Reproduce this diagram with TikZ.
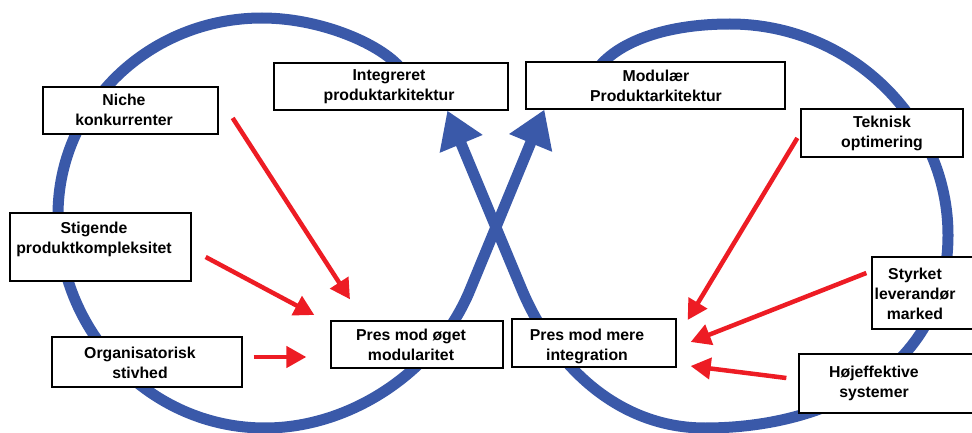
\documentclass[tikz,border=0pt]{standalone}
\usepackage{fontspec}
\setmainfont{Liberation Sans}
\usetikzlibrary{arrows.meta,calc,fit,backgrounds}
\definecolor{loopblue}{RGB}{58,89,169}
\definecolor{pushred}{RGB}{237,28,36}
\begin{document}
\begin{tikzpicture}[x=1pt,y=-1pt,
  frame/.style={draw=black, line width=1.3pt, fill=white, inner sep=0pt},
  boxtext/.style={align=center, inner sep=0pt,
    font=\bfseries\fontsize{15.8}{20}\selectfont},
  loopline/.style={draw=loopblue, line width=11pt,
    -{Triangle[length=36pt,width=44pt]}},
  push/.style={draw=pushred, line width=4.5pt,
    -{Triangle[length=20pt,width=21pt]}}]
\useasboundingbox (0,0) rectangle (972,433);

% boxes
\node[frame, fit={(274,63) (508,110)}] (integ) {};
\node[boxtext] at (389,87) {Integreret\\produktarkitektur};
\node[frame, fit={(526,62) (785,109)}] (modular) {};
\node[boxtext] at (656,86) {Modulær\\Produktarkitektur};

\node[frame, fit={(43,87) (218,134)}] (niche) {};
\node[boxtext] at (124,110) {Niche\\konkurrenter};
\node[frame, fit={(10,213) (191,281)}] (stigende) {};
\node[boxtext] at (94,239) {Stigende\\produktkompleksitet};
\node[frame, fit={(52,337) (242,387)}] (organ) {};
\node[boxtext] at (140,363) {Organisatorisk\\stivhed};

\node[frame, fit={(331,321) (503,368)}] (presmod) {};
\node[boxtext] at (411,345) {Pres mod øget\\modularitet};
\node[frame, fit={(512,319) (676,367)}] (presint) {};
\node[boxtext] at (587,346) {Pres mod mere\\integration};

\node[frame, fit={(801,109) (963,157)}] (teknisk) {};
\node[boxtext] at (882,133) {Teknisk\\optimering};
\node[frame, fit={(872,257) (985,329)}] (styrket) {};
\node[boxtext] at (915,294) {Styrket\\leverandør\\marked};
\node[frame, fit={(799,354) (975,413)}] (hoej) {};
\node[boxtext] at (874,383) {Højeffektive\\systemer};

% loop ends: hidden inside one box, arrow tip on the other box
\coordinate (l0) at ($(integ.north)+(14,12)$);
\coordinate (l1) at ($(modular.south west)+(19,0)$);
\coordinate (r0) at ($(modular.north west)+(69,12)$);
\coordinate (r1) at ($(integ.south west)+(174,0)$);

\begin{scope}[on background layer]
% left loop: from the integrated architecture round to the modular one
\draw[loopline] (l0)
  .. controls (390,48) and (325,18) .. (262,18)
  .. controls (150,18) and (58,105) .. (58,215)
  .. controls (58,332) and (150,428) .. (265,428)
  .. controls (352,428) and (437,370) .. (470,290)
  -- (l1);

% right loop: from the modular architecture round to the integrated one
\draw[loopline] (r0)
  .. controls (612,45) and (660,24) .. (730,24)
  .. controls (850,24) and (948,120) .. (948,235)
  .. controls (948,368) and (830,428) .. (705,428)
  .. controls (620,428) and (555,368) .. (522,290)
  -- (r1);
\end{scope}

% pressures towards more modularity
\draw[push] ($(niche.east)+(14,7.5)$) -- ($(presmod.north)+(-67,-21)$);
\draw[push] ($(stigende.east)+(14,10)$) -- ($(presmod.west)+(-16,-29.5)$);
\draw[push] ($(organ.east)+(11,-5)$) -- ($(presmod.west)+(-24,12.5)$);

% pressures towards more integration
\draw[push] ($(teknisk.west)+(-3,5)$) -- ($(presint.east)+(11,-23)$);
\draw[push] ($(styrket.west)+(-5,-20)$) -- ($(presint.east)+(14,-1)$);
\draw[push] ($(hoej.west)+(-12,-5.5)$) -- ($(presint.east)+(14,23)$);
\end{tikzpicture}
\end{document}
